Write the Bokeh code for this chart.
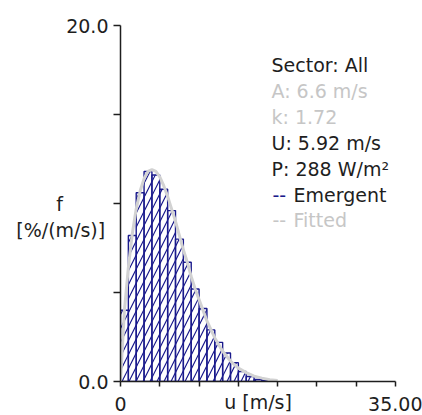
from bokeh.plotting import figure
from bokeh.models import Range1d, FixedTicker, Label, ColumnDataSource
from bokeh.embed import file_html
from bokeh.resources import INLINE

# ---------------- data ----------------
bin_left = [0, 1, 2, 3, 4, 5, 6, 7, 8, 9, 10, 11, 12, 13, 14, 15, 16, 17, 18]
bin_width = 1.0
emergent_freq = [4.0, 8.2, 10.6, 11.8, 11.6, 10.8, 9.6, 8.0, 6.7, 5.2,
                 4.1, 2.9, 2.2, 1.6, 1.06, 0.56, 0.28, 0.11, 0.06]

fit_u = [0, 0.5, 1, 1.5, 2, 2.5, 3, 3.5, 4, 4.5, 5, 5.5, 6, 6.5, 7, 7.5, 8,
         8.5, 9, 9.5, 10, 11, 12, 13, 14, 15, 16, 17, 18, 19, 20]
fit_f = [0, 4.0, 6.4, 8.3, 9.7, 10.7, 11.4, 11.8, 11.9, 11.8, 11.5, 11.0,
         10.4, 9.7, 9.0, 8.2, 7.4, 6.7, 5.9, 5.2, 4.6, 3.4, 2.45, 1.7, 1.15,
         0.75, 0.5, 0.3, 0.19, 0.1, 0.05]

x_ticks = [0, 5, 10, 15, 20, 25, 30, 35]
x_tick_labels = {0: "0", 35: "35.00"}
y_ticks = [0, 5, 10, 15, 20]
y_tick_labels = {0: "0.0", 20: "20.0"}

stats_lines = ["Sector: All", "A: 6.6 m/s", "k: 1.72", "U: 5.92 m/s", "P: 288 W/m\u00b2"]
stats_dark = [True, False, False, True, True]
series_names = ["Emergent", "Fitted"]
x_title = "u [m/s]"
y_title_lines = ["f", "[%/(m/s)]"]

# ---------------- styling ----------------
FONT = "DejaVu Sans"
FS = "19px"
DARK = "#1e1e1e"
LIGHT = "#c6c6c6"
NAVY = "#1a1a8c"
FIT = "#d2d2d2"

FL, FR, FT, FB = 120, 395, 25, 382   # frame edges on the page
W, H = 422, 415
p = figure(width=W, height=H, output_backend="svg", toolbar_location=None,
           x_range=Range1d(0, 35), y_range=Range1d(0, 20),
           min_border_left=FL, min_border_right=W - FR,
           min_border_top=FT, min_border_bottom=H - FB)
p.outline_line_color = None
p.grid.visible = False
p.background_fill_color = "white"
p.border_fill_color = "white"

src = ColumnDataSource(dict(
    left=bin_left,
    right=[b + bin_width for b in bin_left],
    top=emergent_freq,
))
p.quad(left="left", right="right", bottom=0, top="top", source=src,
       fill_alpha=0, line_color=NAVY, line_width=1.4,
       hatch_pattern="/", hatch_color=NAVY, hatch_scale=14, hatch_weight=1.2)

p.line(fit_u, fit_f, line_color=FIT, line_width=3)

# axes
for ax, ticks, labels in ((p.xaxis[0], x_ticks, x_tick_labels),
                          (p.yaxis[0], y_ticks, y_tick_labels)):
    ax.ticker = FixedTicker(ticks=ticks)
    ax.major_label_overrides = {t: labels.get(t, "") for t in ticks}
    ax.minor_tick_line_color = None
    ax.axis_line_color = DARK
    ax.axis_line_width = 1.5
    ax.major_tick_line_color = DARK
    ax.major_tick_line_width = 1.5
    ax.major_tick_in = 0
    ax.major_label_text_font = FONT
    ax.major_label_text_font_size = FS
    ax.major_label_text_color = DARK
    ax.axis_label_text_font = FONT
    ax.axis_label_text_font_size = FS
    ax.axis_label_text_font_style = "normal"
    ax.axis_label_text_color = DARK

p.xaxis.major_tick_out = 5
p.xaxis.major_label_standoff = 10
p.yaxis.major_tick_out = 7
p.yaxis.major_label_standoff = 5

# axis titles, written beside the ticks as in the reference
# (lines are right-aligned; pad the short first line so it sits centred)
yax = p.yaxis[0]
yax.axis_label = "\n" + y_title_lines[0] + "\u00a0" * 7 + "\n" + y_title_lines[1]
if "axis_label_orientation" in yax.properties():
    yax.axis_label_orientation = "horizontal"
yax.axis_label_text_align = "center"
yax.axis_label_standoff = -42

xax = p.xaxis[0]
xax.axis_label = x_title
xax.axis_label_standoff = -23


def add_text(text, px, py, color, align="left"):
    # px, py: page pixel position; screen units are relative to the frame
    p.add_layout(Label(x=px - FL, y=FB - py, x_units="screen", y_units="screen",
                       text=text, text_font=FONT, text_font_size=FS,
                       text_color=color, text_align=align, text_baseline="middle"))


row_y = [65.5, 91.4, 117.3, 143.2, 169.1, 195.0, 220.9]
for i, (t, dark) in enumerate(zip(stats_lines, stats_dark)):
    add_text(t, 271, row_y[i], DARK if dark else LIGHT)
add_text("--", 272, row_y[5], NAVY)
add_text(series_names[0], 293, row_y[5], DARK)
add_text("--", 272, row_y[6], LIGHT)
add_text(series_names[1], 293, row_y[6], LIGHT)

open("out.html", "w").write(file_html(p, INLINE))
